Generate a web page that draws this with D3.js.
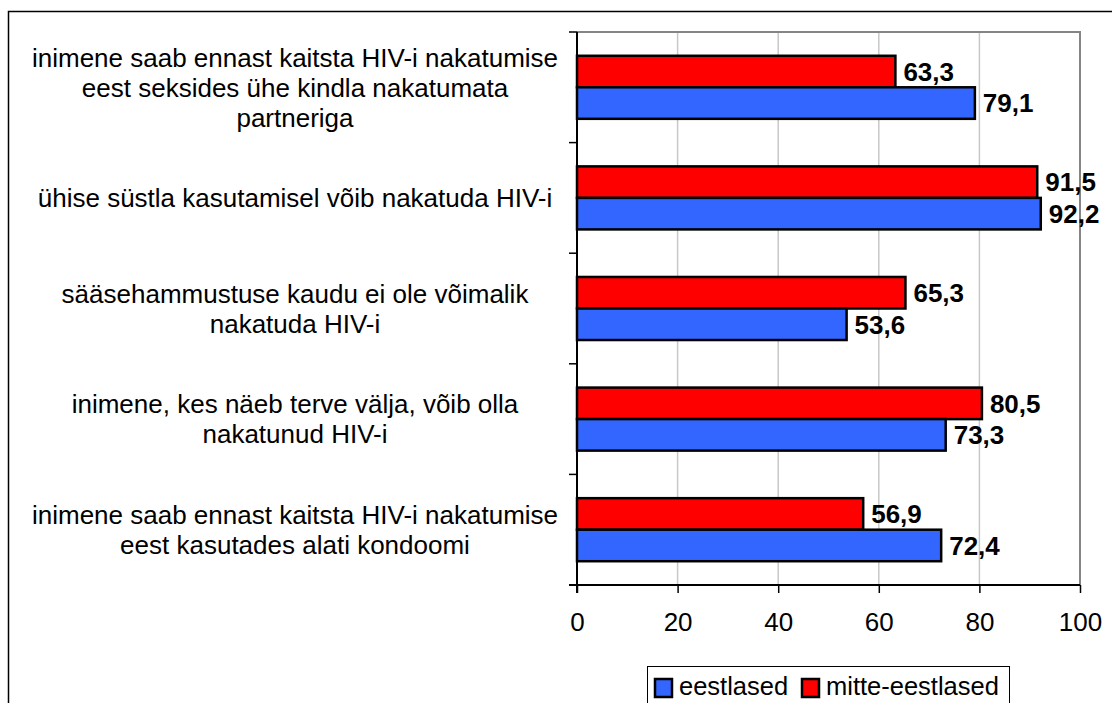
<!DOCTYPE html>
<html>
<head>
<meta charset="utf-8">
<script src="https://cdn.jsdelivr.net/npm/d3@7.9.0/dist/d3.min.js"></script>
<style>
  body { margin: 0; background: #fff; }
  svg { display: block; font-family: "Liberation Sans", Arial, sans-serif; }
</style>
</head>
<body>
<svg id="chart" width="1112" height="703"></svg>
<script>
// data, top to bottom
const categories = [
  'inimene saab ennast kaitsta HIV-i nakatumise\neest seksides ühe kindla nakatumata\npartneriga',
  'ühise süstla kasutamisel võib nakatuda HIV-i',
  'sääsehammustuse kaudu ei ole võimalik\nnakatuda HIV-i',
  'inimene, kes näeb terve välja, võib olla\nnakatunud HIV-i',
  'inimene saab ennast kaitsta HIV-i nakatumise\neest kasutades alati kondoomi'
];
const eestlased = [79.1, 92.2, 53.6, 73.3, 72.4];
const mitteEestlased = [63.3, 91.5, 65.3, 80.5, 56.9];
const seriesNames = ['eestlased', 'mitte-eestlased'];
const xTicks = [0, 20, 40, 60, 80, 100];

const svg = d3.select('#chart');
const plot = { left: 577, right: 1080, top: 32, bottom: 585 };
const colors = { 'eestlased': '#3366ff', 'mitte-eestlased': '#ff0000' };
const fs = 26;

// outer frame (runs off the right/bottom edge like the original)
svg.append('rect')
  .attr('x', 8.5).attr('y', 11.5)
  .attr('width', 1300).attr('height', 900)
  .attr('fill', 'none').attr('stroke', '#000').attr('stroke-width', 1.5);

const x = d3.scaleLinear().domain([0, 100]).range([plot.left, plot.right]);
const y0 = d3.scaleBand().domain(categories)
  .range([plot.top, plot.bottom])
  .paddingInner(0.43).paddingOuter(0.215);
// red bar sits above the blue one
const y1 = d3.scaleBand().domain(['mitte-eestlased', 'eestlased'])
  .range([0, y0.bandwidth()]);

// gridlines
svg.append('g').selectAll('line')
  .data(xTicks.slice(1, -1))
  .join('line')
  .attr('x1', d => x(d)).attr('x2', d => x(d))
  .attr('y1', plot.top).attr('y2', plot.bottom)
  .attr('stroke', '#c8c8c8').attr('stroke-width', 1.5);

// top + right border in grey
svg.append('path')
  .attr('d', `M${plot.left},${plot.top}H${plot.right}V${plot.bottom}`)
  .attr('fill', 'none').attr('stroke', '#858585').attr('stroke-width', 2);

// bars
const rows = categories.map((c, i) => ({
  cat: c,
  vals: [
    { name: 'mitte-eestlased', value: mitteEestlased[i] },
    { name: 'eestlased', value: eestlased[i] }
  ]
}));

const groups = svg.append('g').selectAll('g')
  .data(rows)
  .join('g')
  .attr('transform', d => `translate(0,${y0(d.cat)})`);

groups.selectAll('rect')
  .data(d => d.vals)
  .join('rect')
  .attr('x', x(0))
  .attr('y', d => y1(d.name))
  .attr('width', d => x(d.value) - x(0))
  .attr('height', y1.bandwidth())
  .attr('fill', d => colors[d.name])
  .attr('stroke', '#000').attr('stroke-width', 2.5);

groups.selectAll('text')
  .data(d => d.vals)
  .join('text')
  .attr('x', d => x(d.value) + 8)
  .attr('y', d => y1(d.name) + y1.bandwidth() / 2)
  .attr('dy', '0.36em')
  .attr('font-size', fs).attr('font-weight', 'bold')
  .text(d => d3.format('.1f')(d.value).replace('.', ','));

// x axis
const xAxis = svg.append('g')
  .attr('transform', `translate(0,${plot.bottom})`)
  .call(d3.axisBottom(x).tickValues(xTicks).tickSize(8).tickSizeOuter(0).tickPadding(20));
xAxis.select('.domain').attr('stroke', '#000').attr('stroke-width', 2)
  .attr('d', `M${plot.left - 8},0H${plot.right}`);
xAxis.selectAll('.tick line').attr('stroke', '#000').attr('stroke-width', 1.5);
xAxis.selectAll('.tick text').attr('font-size', fs).attr('fill', '#000')
  .attr('font-family', '"Liberation Sans", Arial, sans-serif');

// y axis: line plus ticks between the categories
svg.append('line')
  .attr('x1', plot.left).attr('x2', plot.left)
  .attr('y1', plot.top).attr('y2', plot.bottom + 8)
  .attr('stroke', '#000').attr('stroke-width', 2);
const step = y0.step();
const bounds = categories.map(c => y0(c) - step * y0.paddingInner() / 2);
svg.append('g').selectAll('line')
  .data(bounds)
  .join('line')
  .attr('x1', plot.left - 8).attr('x2', plot.left)
  .attr('y1', d => d).attr('y2', d => d)
  .attr('stroke', '#000').attr('stroke-width', 1.5);

// category labels
const lineH = 30;
svg.append('g').selectAll('text')
  .data(categories)
  .join('text')
  .attr('text-anchor', 'middle')
  .attr('font-size', fs)
  .each(function (d) {
    const lines = d.split('\n');
    const cy = y0(d) + y0.bandwidth() / 2;
    const t = d3.select(this);
    lines.forEach((ln, i) => {
      t.append('tspan')
        .attr('x', 295)
        .attr('y', cy + (i - (lines.length - 1) / 2) * lineH)
        .attr('dy', '0.36em')
        .text(ln);
    });
  });

// legend
const legend = svg.append('g');
legend.append('rect')
  .attr('x', 647.5).attr('y', 666.5)
  .attr('width', 362).attr('height', 60)
  .attr('fill', '#fff').attr('stroke', '#000').attr('stroke-width', 1);
const legX = [655, 802];
seriesNames.forEach((s, i) => {
  legend.append('rect')
    .attr('x', legX[i]).attr('y', 679)
    .attr('width', 17).attr('height', 18)
    .attr('fill', colors[s]).attr('stroke', '#000').attr('stroke-width', 2.5);
  legend.append('text')
    .attr('x', legX[i] + 24).attr('y', 695)
    .attr('font-size', 25.5)
    .text(s);
});
</script>
</body>
</html>
